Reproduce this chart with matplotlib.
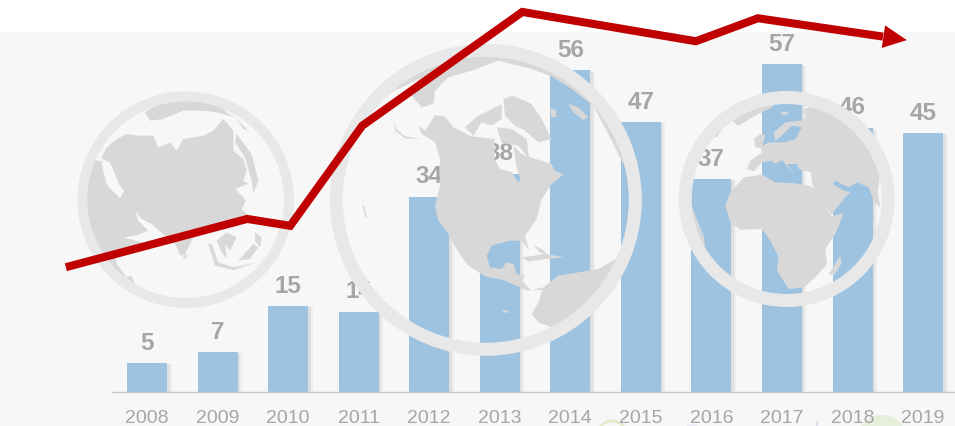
import matplotlib
matplotlib.use("Agg")
import matplotlib.pyplot as plt
from matplotlib.patches import Rectangle, Circle, Polygon, FancyArrowPatch, Ellipse
from matplotlib.transforms import Affine2D

plt.rcParams['font.family'] = ['Liberation Sans', 'DejaVu Sans']

# ---- data ----
years = ['2008', '2009', '2010', '2011', '2012', '2013',
         '2014', '2015', '2016', '2017', '2018', '2019']
values = [5, 7, 15, 14, 34, 38, 56, 47, 37, 57, 46, 45]
trend_x = [-1.15, 1.42, 2.03, 3.05, 5.32, 7.78, 8.66, 10.77]
trend_y = [21.7, 30.1, 28.9, 46.3, 66.1, 61.0, 65.0, 61.2]

W, H = 955, 427
BAR_COL, LINE_COL, TXT_COL = '#9DC3E1', '#C00000', '#A6A6A6'
RING_COL, LAND_COL = '#E8E8E8', '#D8D8D8'
fig = plt.figure(figsize=(W / 100, H / 100), dpi=100, facecolor='white')
fig.patches.append(Rectangle((0, -0.01), 1, 0.01 + (H - 33.4) / H, transform=fig.transFigure,
                             fc='#F7F7F7', ec='none', zorder=-5))

ax = fig.add_axes([0, 34 / H, 1, (H - 34) / H], zorder=2)
ax.patch.set_visible(False)
STEP, UNIT, X0 = 70.55, 5.75, 147
ax.set_xlim(-X0 / STEP, (W - X0) / STEP)
ax.set_ylim(0, (H - 34) / UNIT)
xs = list(range(len(years)))

# bars with soft right-hand shadow
ax.bar([x + 4.5 / STEP for x in xs], [v - 0.3 for v in values], width=40 / STEP,
       color='#EEEEEE', zorder=1)
ax.bar([x + 2.5 / STEP for x in xs], [v - 0.2 for v in values], width=40 / STEP,
       color='#DFDFDF', zorder=1.1)
ax.bar(xs, values, width=40 / STEP, color=BAR_COL, zorder=2)
for x, v in zip(xs, values):
    ax.annotate(str(v), (x, v), xytext=(0, 10.2), textcoords='offset points',
                ha='center', va='baseline', fontsize=17.5, fontweight='bold',
                color=TXT_COL, zorder=3)

ax.set_xticks(xs, years)
ax.tick_params(axis='x', length=0, pad=12.3, labelsize=14, labelcolor=TXT_COL)
ax.set_yticks([])
for s in ('top', 'left', 'right'):
    ax.spines[s].set_visible(False)
ax.spines['bottom'].set_color('#C9C9C9')
ax.spines['bottom'].set_linewidth(1)
ax.spines['bottom'].set_bounds((112 - X0) / STEP, (W - X0) / STEP)

# ---- decorative globes (artwork traced in 3x-crop pixels) ----
T = Affine2D().scale(1, -1).translate(0, H)


def land(points, ox, oy, clip, col=LAND_COL):
    p = Polygon([(ox + a / 3, oy + b / 3) for a, b in points], closed=True,
                fc=col, ec='none', transform=T, zorder=5, clip_on=True)
    ax.add_patch(p)
    p.set_clip_path(clip)


def globe(cx, cy, R, r, shapes, ox, oy):
    ring = Circle((cx, cy), (R + r) / 2, fc='none', ec=RING_COL,
                  lw=(R - r) * 0.72, transform=T, zorder=5.5)
    ax.add_patch(ring)
    inner = Circle((cx, cy), r + 1, transform=T)
    for s in shapes:
        land(s, ox, oy, inner)


asia = [
    [(70, 228), (95, 232), (100, 262), (110, 300), (125, 318), (150, 342), (162, 322),
     (145, 295), (125, 245), (118, 235), (93, 222), (110, 190), (140, 165), (170, 150),
     (205, 155), (250, 155), (265, 190), (300, 175), (320, 200), (340, 165), (400, 155),
     (430, 140), (460, 105), (490, 140), (490, 200), (520, 225), (530, 260), (520, 290),
     (535, 300), (495, 315), (515, 335), (528, 350), (515, 375), (535, 395), (530, 415),
     (480, 425), (430, 440), (370, 460), (345, 510), (332, 515), (315, 480), (285, 455),
     (245, 420), (215, 405), (195, 378), (205, 410), (235, 440), (195, 455), (160, 460),
     (230, 480), (135, 505), (140, 540), (170, 580), (185, 575), (200, 615), (100, 600),
     (30, 470), (30, 300)],
    [(225, 85), (270, 55), (330, 35), (420, 40), (470, 85), (495, 100), (440, 85),
     (400, 80), (340, 80), (280, 105), (240, 110)],
    [(495, 100), (535, 140), (520, 135)],
    [(500, 150), (545, 210), (565, 290), (550, 330), (545, 290), (525, 220), (495, 175)],
    [(440, 470), (470, 445), (500, 460), (480, 500), (465, 480), (470, 525), (455, 505)],
    [(505, 530), (550, 480), (565, 490), (540, 525)],
    [(555, 445), (575, 460), (570, 490), (555, 470)],
    [(340, 510), (352, 515), (348, 525), (340, 522)],
    [(415, 480), (425, 480), (445, 535), (490, 550), (560, 535), (490, 558), (435, 545)],
    [(510, 605), (570, 565), (610, 510), (645, 445), (680, 450), (620, 620)],
]
america = [
    [(280, 260), (300, 275), (330, 228), (360, 232), (385, 265), (425, 285), (440, 292),
     (508, 300), (508, 360), (525, 390), (560, 400), (580, 432), (586, 420), (575, 385),
     (565, 320), (590, 345), (615, 355), (650, 365), (680, 375), (690, 395), (715, 405),
     (700, 420), (680, 435), (650, 480), (635, 540), (600, 590), (612, 635), (590, 605),
     (555, 605), (500, 620), (485, 650), (495, 685), (530, 690), (545, 670), (565, 675),
     (575, 705), (600, 710), (590, 725), (620, 755), (650, 745), (655, 752), (610, 755),
     (530, 722), (480, 712), (430, 680), (400, 640), (370, 585), (340, 545), (330, 500),
     (345, 440), (345, 360), (330, 310), (290, 285)],
    [(515, 265), (560, 270), (605, 300), (612, 358), (580, 320), (530, 312)],
    [(535, 180), (565, 170), (620, 195), (650, 240), (680, 300), (640, 310), (600, 275),
     (570, 260), (540, 230)],
    [(420, 265), (460, 230), (530, 195), (530, 240), (500, 260), (470, 250), (445, 290)],
    [(190, 150), (230, 60), (450, 0), (650, 20), (800, 90), (950, 300), (940, 450),
     (928, 445), (900, 385), (855, 295), (805, 200), (740, 150), (680, 112), (620, 90),
     (520, 65), (440, 95), (370, 115), (330, 155), (325, 195), (290, 205), (260, 170),
     (280, 120), (230, 145), (195, 162)],
    [(730, 195), (760, 205), (790, 235), (775, 243), (745, 220)],
    [(675, 208), (692, 212), (695, 232), (680, 236)],
    [(590, 655), (660, 645), (720, 655), (660, 660), (610, 668)],
    [(625, 620), (650, 630), (672, 650), (645, 640)],
    [(920, 630), (900, 645), (820, 690), (760, 700), (700, 710), (655, 745), (640, 790),
     (620, 825), (640, 850), (680, 865), (685, 885), (770, 900), (920, 760)],
    [(112, 498), (117, 500), (126, 535), (122, 537)],
    [(533, 813), (553, 815), (550, 821), (535, 820)],
    [(208, 245), (214, 270), (240, 292), (290, 300), (240, 298), (210, 275)],
]
africa = [
    [(410, 70), (430, 40), (500, 40), (570, 80), (620, 160), (650, 250), (650, 305),
     (625, 272), (617, 325), (625, 372), (605, 350), (590, 310), (555, 295), (530, 310),
     (490, 290), (483, 300), (510, 318), (535, 325), (515, 345), (478, 393), (455, 360),
     (425, 312), (420, 298), (417, 265), (380, 255), (375, 240), (345, 240), (365, 272),
     (330, 228), (310, 240), (300, 230), (270, 235), (245, 262), (225, 255), (235, 230),
     (270, 205), (265, 190), (290, 175), (340, 175), (370, 165), (390, 130), (360, 125),
     (310, 172), (305, 145), (340, 115), (385, 110), (420, 95), (395, 75)],
    [(160, 365), (175, 325), (215, 280), (270, 272), (310, 295), (370, 298), (410, 305),
     (425, 312), (478, 397), (515, 388), (490, 450), (460, 495), (465, 540), (430, 580),
     (395, 610), (350, 615), (315, 560), (320, 520), (295, 470), (270, 435), (205, 437),
     (175, 415)],
    [(470, 570), (505, 515), (508, 540), (485, 575)],
    [(245, 165), (265, 150), (280, 152), (270, 192), (250, 190)],
    [(110, 150), (140, 120), (190, 85), (260, 55), (310, 55), (300, 70), (240, 100),
     (200, 125), (170, 105), (135, 160)],
    [(325, 85), (350, 82), (345, 92), (330, 93)],
    [(395, 80), (425, 65), (425, 100), (405, 110)],
    [(30, 345), (60, 370), (97, 460), (100, 530), (30, 470)],
]
globe(185.7, 200.7, 108.3, 98.3, asia, 70, 85)
globe(485.8, 200.8, 156, 143, america, 325, 40)
globe(786.7, 200, 108, 95, africa, 672, 85)

# faint fragments of artwork cut off at the bottom edge
ax.add_patch(Ellipse((612, 438), 30, 32, fc='none', ec='#E2ECC8', lw=2, transform=T,
                     zorder=1, clip_on=False))
ax.add_patch(Ellipse((692, 431), 14, 10, fc='none', ec='#E8E6F0', lw=1, transform=T,
                     zorder=1, clip_on=False))
ax.add_patch(Rectangle((816, 422), 1.5, 5, fc='#E2DCEA', ec='none', transform=T,
                       zorder=1, clip_on=False))
ax.add_patch(Ellipse((882, 436), 46, 40, fc='#E6EFDC', ec='none', transform=T,
                     zorder=1, clip_on=False))

# ---- trend arrow ----
base_frac = 0.84
bx = trend_x[-2] + (trend_x[-1] - trend_x[-2]) * base_frac
by = trend_y[-2] + (trend_y[-1] - trend_y[-2]) * base_frac
ax.plot(trend_x[:-1] + [bx], trend_y[:-1] + [by], color=LINE_COL, lw=5.8,
        solid_joinstyle='miter', solid_capstyle='butt', zorder=8, clip_on=False)
ax.add_patch(FancyArrowPatch((bx, by), (trend_x[-1], trend_y[-1]),
                             arrowstyle='-|>,head_length=17,head_width=8.2',
                             mutation_scale=1, color=LINE_COL, lw=0.01,
                             shrinkA=0, shrinkB=0, zorder=8, clip_on=False))

fig.savefig('out.png', dpi=100, facecolor='white')
